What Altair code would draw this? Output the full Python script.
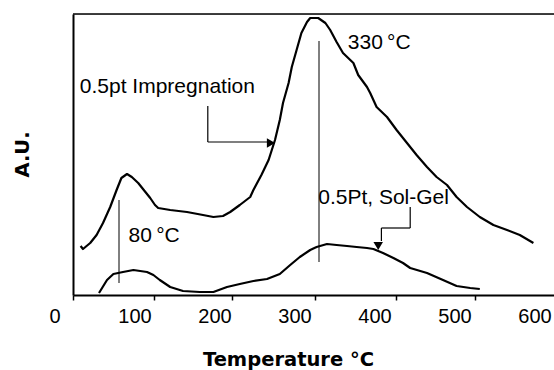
import altair as alt
import pandas as pd

# TPR traces: temperature (°C) and detector signal (arbitrary units)
imp_temp = [32, 35, 44, 52, 60, 69, 77, 83, 90, 96, 104, 113, 119, 125, 129, 144, 165, 185,
            198, 210, 219, 231, 244, 248, 258, 267, 275, 281, 285, 292, 296, 302, 308, 315,
            319, 329, 338, 344, 352, 360, 373, 379, 390, 394, 402, 415, 427, 440, 452, 465,
            477, 490, 502, 515, 531, 548, 565, 581, 598]
imp_au = [49, 46, 52, 60, 72, 88, 105, 117, 121, 118, 112, 103, 97, 90, 87, 85, 83, 80,
          78, 79, 83, 90, 98, 105, 120, 135, 155, 175, 192, 212, 228, 245, 262, 273,
          277, 277, 272, 265, 253, 242, 232, 220, 208, 202, 188, 178, 165, 152, 140, 128,
          118, 110, 98, 88, 78, 70, 65, 60, 52]

sg_temp = [55, 65, 73, 85, 98, 115, 123, 131, 144, 160, 181, 198, 215, 231, 248, 265, 281,
           294, 306, 319, 327, 340, 352, 365, 377, 390, 398, 410, 423, 435, 444, 465, 485,
           502, 519, 531]
sg_au = [2, 15, 21, 23, 25, 23, 20, 15, 8, 4, 3, 3, 8, 11, 14, 16, 21,
         30, 38, 45, 48, 51, 50, 49, 48, 47, 46, 42, 37, 32, 27, 22, 15,
         9, 7, 6]

# peak markers
peak_temp = [80, 330]
peak_top = [95, 254]
peak_bottom = [12, 33]
peak_text = ["80\u2009°C", "330\u2009°C"]

# axis: tick marks and their labels
tick_pos = [22.5, 124, 221, 325, 426, 525]
tick_labels = [0, 100, 200, 300, 400, 500, 600]

X_DOMAIN = [22.5, 623.75]
Y_DOMAIN = [0, 281]
W, H = 481, 281
FONT = "Liberation Sans"

xs = alt.Scale(domain=X_DOMAIN, nice=False, zero=False)
ys = alt.Scale(domain=Y_DOMAIN, nice=False, zero=False)

x_axis = alt.Axis(
    values=tick_pos, labels=False, grid=False, tickSize=5, tickWidth=1.5,
    tickColor="black", domainColor="black", domainWidth=2,
    title="Temperature °C", titleFont="DejaVu Sans", titleFontSize=19.5,
    titleFontWeight="bold", titleColor="black", titleX=215, titleY=64,
    titleAlign="center", titleBaseline="middle")
y_axis = alt.Axis(
    labels=False, ticks=False, grid=False, domainColor="black", domainWidth=2,
    title="A.U.", titleFont="DejaVu Sans", titleFontSize=19.5, titleFontWeight="bold",
    titleColor="black", titleAngle=270, titleX=-51, titleY=140,
    titleAlign="center", titleBaseline="middle")


def X(field):
    return alt.X(field, scale=xs, axis=x_axis)


def Y(field):
    return alt.Y(field, scale=ys, axis=y_axis)


curves = pd.concat([
    pd.DataFrame({"t": imp_temp, "au": imp_au, "s": "0.5pt Impregnation"}),
    pd.DataFrame({"t": sg_temp, "au": sg_au, "s": "0.5Pt, Sol-Gel"}),
])

lines = alt.Chart(curves).mark_line(color="black", strokeWidth=2.2, strokeJoin="round").encode(
    x=X("t:Q"), y=Y("au:Q"), detail="s:N", order="t:Q",
)

peaks = pd.DataFrame({"t": peak_temp, "top": peak_top, "bot": peak_bottom})
peak_rules = alt.Chart(peaks).mark_rule(color="black", strokeWidth=1).encode(
    x=X("t:Q"), y=Y("bot:Q"), y2="top:Q",
)

# labels placed in data coordinates
notes = pd.DataFrame({
    "t": [31, 366, 92, 329],
    "au": [208, 252, 59.5, 97.5],
    "txt": ["0.5pt Impregnation", peak_text[1], peak_text[0], "0.5Pt, Sol-Gel"],
})
note_text = alt.Chart(notes).mark_text(
    align="left", baseline="middle", font=FONT, fontSize=21, color="black"
).encode(x=X("t:Q"), y=Y("au:Q"), text="txt:N")

# leader lines for the two labels
seg = pd.DataFrame({
    "x1": [191, 191, 444, 444, 408],
    "x2": [191, 266, 444, 408, 408],
    "y1": [189, 153, 88, 67, 67],
    "y2": [153, 153, 67, 67, 54],
})
leaders = alt.Chart(seg).mark_rule(color="black", strokeWidth=1.2).encode(
    x=X("x1:Q"), x2="x2:Q", y=Y("y1:Q"), y2="y2:Q",
)

heads = pd.DataFrame({"t": [270, 404], "au": [152, 49],
                      "shape": ["triangle-right", "triangle-down"]})
arrowheads = alt.Chart(heads).mark_point(filled=True, color="black", opacity=1, size=90).encode(
    x=X("t:Q"), y=Y("au:Q"),
    shape=alt.Shape("shape:N", scale=None, legend=None),
)

ticks_df = pd.DataFrame({"v": tick_labels, "lab": [str(v) for v in tick_labels]})
tick_text = alt.Chart(ticks_df).mark_text(
    align="center", baseline="middle", font=FONT, fontSize=20, color="black"
).encode(x=X("v:Q"), y=alt.value(H + 22), text="lab:N")

frame_top = alt.Chart(pd.DataFrame({"a": [0]})).mark_rule(color="black", strokeWidth=1.5).encode(
    x=alt.value(0), x2=alt.value(W), y=alt.value(0)
)

chart = alt.layer(
    lines, peak_rules, leaders, arrowheads, note_text, tick_text, frame_top
).properties(
    width=W, height=H,
    padding={"left": 73, "top": 14, "right": 0, "bottom": 75},
    autosize=alt.AutoSizeParams(type="none"),
).configure_view(stroke=None).configure(background="white")

chart.save("out.html", embed_options={"renderer": "svg", "actions": False})
